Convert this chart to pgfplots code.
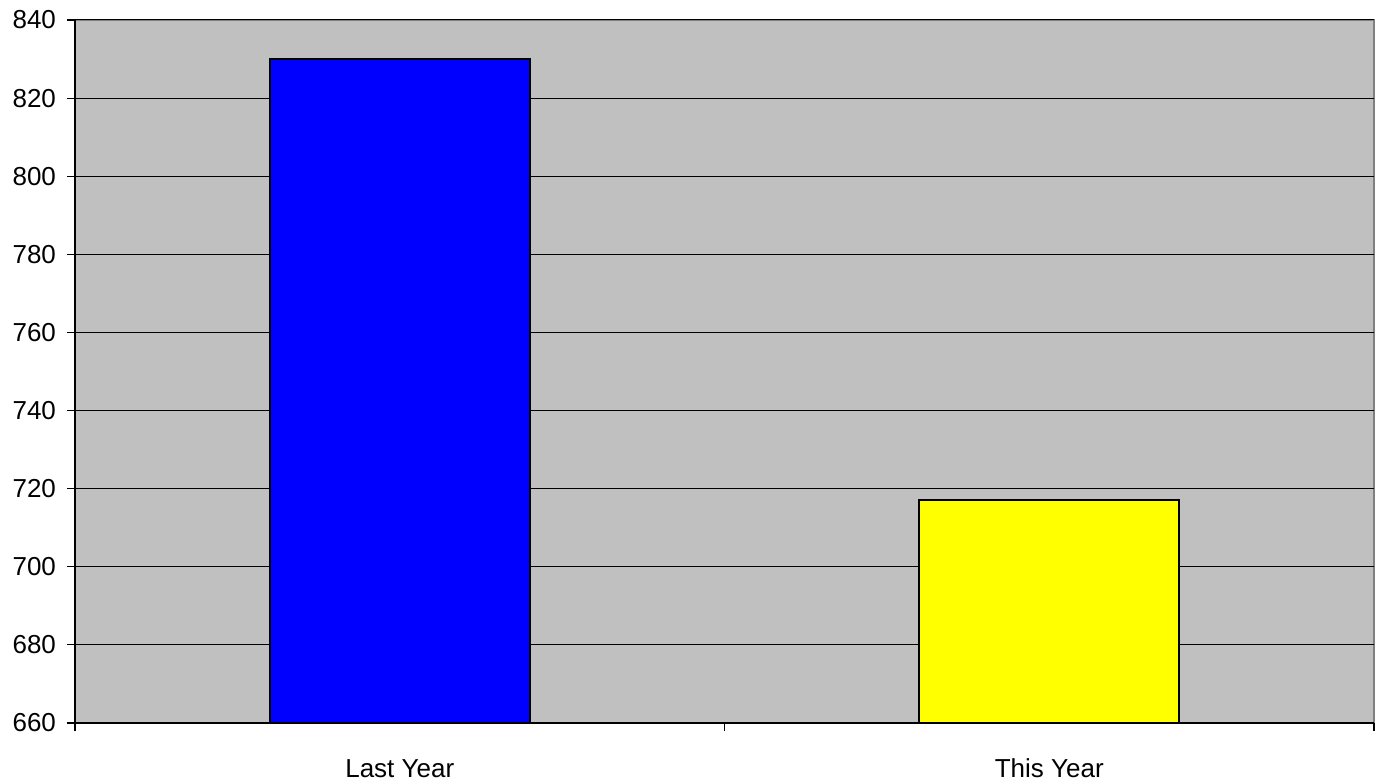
\documentclass[border=0pt]{standalone}
\usepackage{fontspec}
\setmainfont{Liberation Sans}
\usepackage{pgfplots}
\pgfplotsset{compat=1.18}
\definecolor{plotbg}{RGB}{192,192,192}
\definecolor{edgegray}{RGB}{128,128,128}
\definecolor{baryellow}{RGB}{255,255,0}
\definecolor{barblue}{RGB}{0,0,255}
\begin{document}
\begin{tikzpicture}
\useasboundingbox (-37.5pt,-30pt) rectangle (653.5pt,361.5pt);
\begin{axis}[
    at={(0,0)}, anchor=south west,
    scale only axis,
    width=649.5pt, height=351.5pt,
    ybar, bar shift=0pt, bar width=0.4,
    xmin=-0.5, xmax=1.5,
    ymin=660, ymax=840,
    ytick={660,680,...,840},
    xtick={-0.5,0.5,1.5},
    x tick label as interval,
    xticklabels={Last Year,This Year},
    axis x line*=bottom, axis y line*=left,
    axis line style={black, line width=0.75pt},
    axis background/.style={fill=plotbg, draw=edgegray, line width=0.75pt},
    ymajorgrids, grid style={black, line width=0.5pt},
    tick align=outside, major tick length=4pt,
    tick style={black, line width=0.6pt},
    yticklabel style={font=\fontsize{13pt}{15pt}\selectfont, xshift=-2pt},
    xticklabel style={font=\fontsize{13pt}{15pt}\selectfont, anchor=base, yshift=-23pt},
    /pgf/number format/assume math mode=true,
]
\addplot[fill=barblue, draw=black, line width=1pt] coordinates {(0,830)};
\addplot[fill=baryellow, draw=black, line width=1pt] coordinates {(1,717)};
\end{axis}
\end{tikzpicture}
\end{document}
